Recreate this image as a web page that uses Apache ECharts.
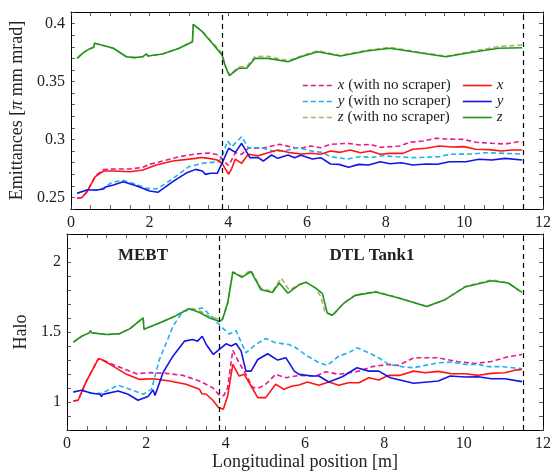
<!DOCTYPE html>
<html><head><meta charset="utf-8">
<script src="https://cdn.jsdelivr.net/npm/echarts@6/dist/echarts.min.js"></script>
<style>html,body{margin:0;padding:0;background:#fff}#c{width:554px;height:472px}</style>
</head><body><div id="c"></div>
<script>
// ---------- data ----------
const xTickLabels = ['0','2','4','6','8','10','12'];
const emitTickLabels = ['0.25','0.3','0.35','0.4'];
const haloTickLabels = ['1','1.5','2'];
const sectionBounds = [3.85, 11.5];
const sectionNames = ['MEBT', 'DTL Tank1'];

// top panel: emittances
const emitXNS = [[0.16,0.2492],[0.28,0.2500],[0.41,0.2549],[0.62,0.2685],[0.83,0.2740],[1.08,0.2745],[1.5,0.2745],[1.83,0.2760],[2.0,0.2786],[2.33,0.2814],[2.75,0.2851],[3.17,0.2875],[3.51,0.2883],[3.76,0.2866],[3.93,0.2800],[4.0,0.2775],[4.05,0.2800],[4.18,0.2886],[4.34,0.2872],[4.51,0.2924],[4.85,0.2924],[5.31,0.2958],[5.68,0.2929],[5.85,0.2924],[6.1,0.2944],[6.35,0.2929],[6.6,0.2958],[7.02,0.2967],[7.36,0.2952],[7.61,0.2958],[7.86,0.2932],[8.36,0.2944],[8.61,0.2976],[8.95,0.2987],[9.28,0.3010],[9.53,0.3004],[9.99,0.3001],[10.29,0.2976],[10.7,0.2967],[11.04,0.2961],[11.37,0.2981],[11.47,0.2976]];
const emitX = [[0.16,0.2492],[0.28,0.2500],[0.41,0.2549],[0.62,0.2679],[0.83,0.2728],[1.08,0.2728],[1.5,0.2722],[1.83,0.2737],[2.17,0.2780],[2.59,0.2814],[3.17,0.2837],[3.3,0.2845],[3.35,0.2835],[3.51,0.2837],[3.72,0.2823],[3.84,0.2794],[4.01,0.2700],[4.09,0.2751],[4.18,0.2831],[4.34,0.2794],[4.51,0.2872],[4.76,0.2860],[5.01,0.2886],[5.26,0.2909],[5.52,0.2889],[5.85,0.2875],[6.1,0.2881],[6.35,0.2872],[6.6,0.2900],[6.85,0.2889],[7.1,0.2909],[7.36,0.2886],[7.61,0.2900],[7.86,0.2872],[8.11,0.2880],[8.44,0.2880],[8.69,0.2915],[9.03,0.2924],[9.36,0.2944],[9.70,0.2935],[9.99,0.2938],[10.29,0.2915],[10.62,0.2912],[10.95,0.2900],[11.2,0.2909],[11.47,0.2909]];
const emitYNS = [[0.16,0.2536],[0.41,0.2564],[0.66,0.2564],[0.83,0.2580],[1.0,0.2622],[1.29,0.2650],[1.58,0.2622],[1.92,0.2578],[2.17,0.2573],[2.42,0.2622],[2.71,0.2693],[3.0,0.2765],[3.34,0.2794],[3.76,0.2808],[3.84,0.2851],[3.98,0.2987],[4.09,0.2938],[4.34,0.3024],[4.51,0.2929],[4.85,0.2929],[5.18,0.2895],[5.52,0.2909],[5.77,0.2929],[6.18,0.2895],[6.39,0.2889],[6.6,0.2851],[7.02,0.2831],[7.36,0.2851],[7.69,0.2846],[7.94,0.2860],[8.27,0.2851],[8.69,0.2843],[9.36,0.2851],[9.62,0.2872],[10.2,0.2875],[10.54,0.2886],[11.04,0.2880],[11.47,0.2875]];
const emitY = [[0.16,0.2536],[0.41,0.2564],[0.66,0.2564],[0.83,0.2572],[0.88,0.2590],[1.08,0.2607],[1.33,0.2636],[1.66,0.2601],[2.0,0.2555],[2.21,0.2544],[2.25,0.2560],[2.59,0.2636],[2.92,0.2708],[3.17,0.2742],[3.34,0.2728],[3.42,0.2699],[3.55,0.2708],[3.72,0.2708],[3.84,0.2794],[4.01,0.2924],[4.18,0.2889],[4.34,0.2967],[4.55,0.2843],[4.76,0.2843],[4.89,0.2814],[5.1,0.2866],[5.26,0.2837],[5.52,0.2866],[5.68,0.2843],[5.85,0.2863],[6.14,0.2831],[6.35,0.2843],[6.6,0.2788],[6.81,0.2785],[7.06,0.2760],[7.32,0.2785],[7.57,0.2780],[7.86,0.2808],[8.11,0.2790],[8.4,0.2799],[8.69,0.2780],[9.03,0.2788],[9.32,0.2786],[9.62,0.2808],[10.04,0.2808],[10.37,0.2829],[10.7,0.2823],[11.04,0.2837],[11.47,0.2823]];
const emitZNS = [[0.16,0.3700],[0.3,0.3745],[0.45,0.3778],[0.58,0.3795],[0.60,0.3830],[0.66,0.3826],[1.08,0.3787],[1.41,0.3714],[1.62,0.3706],[1.83,0.3714],[1.92,0.3738],[1.96,0.3720],[2.33,0.3738],[2.75,0.3787],[3.09,0.3844],[3.11,0.3994],[3.34,0.3932],[3.63,0.3825],[3.84,0.3740],[3.93,0.3635],[4.03,0.3555],[4.26,0.3625],[4.47,0.3630],[4.68,0.3715],[5.01,0.3718],[5.52,0.3680],[5.85,0.3720],[6.27,0.3765],[6.85,0.3725],[7.52,0.3770],[8.11,0.3795],[8.69,0.3762],[9.53,0.3718],[10.2,0.3760],[10.87,0.3802],[11.47,0.3815]];
const emitZ = [[0.16,0.3700],[0.3,0.3745],[0.45,0.3778],[0.58,0.3795],[0.60,0.3830],[0.66,0.3826],[1.08,0.3787],[1.41,0.3714],[1.62,0.3706],[1.83,0.3714],[1.92,0.3738],[1.96,0.3720],[2.33,0.3738],[2.75,0.3787],[3.09,0.3844],[3.11,0.3994],[3.34,0.3930],[3.63,0.3815],[3.84,0.3730],[3.93,0.3628],[4.03,0.3550],[4.26,0.3614],[4.47,0.3614],[4.68,0.3700],[5.01,0.3700],[5.52,0.3670],[5.85,0.3714],[6.27,0.3757],[6.85,0.3720],[7.52,0.3763],[8.11,0.3787],[8.69,0.3757],[9.53,0.3714],[10.2,0.3752],[10.87,0.3787],[11.47,0.3792]];

// bottom panel: halo
const haloXNS = [[0.16,1.008],[0.28,1.013],[0.49,1.150],[0.79,1.309],[0.91,1.300],[1.25,1.257],[1.75,1.203],[2.08,1.210],[2.5,1.205],[2.92,1.191],[3.34,1.150],[3.67,1.103],[3.84,1.049],[3.95,1.045],[4.05,1.103],[4.18,1.370],[4.34,1.280],[4.51,1.198],[4.68,1.103],[4.85,1.103],[5.01,1.127],[5.26,1.198],[5.52,1.174],[5.85,1.190],[6.27,1.186],[6.52,1.217],[6.85,1.198],[7.36,1.221],[7.69,1.253],[8.11,1.269],[8.36,1.262],[8.74,1.316],[9.36,1.316],[9.87,1.288],[10.29,1.276],[10.7,1.290],[11.12,1.324],[11.47,1.340]];
const haloX = [[0.16,1.008],[0.28,1.013],[0.49,1.150],[0.79,1.309],[0.87,1.304],[1.16,1.257],[1.5,1.198],[1.83,1.162],[2.17,1.167],[2.59,1.150],[3.0,1.127],[3.34,1.091],[3.4,1.060],[3.51,1.056],[3.67,1.015],[3.82,0.961],[3.94,0.949],[4.05,1.044],[4.18,1.269],[4.34,1.186],[4.47,1.198],[4.64,1.115],[4.81,1.032],[5.01,1.032],[5.26,1.127],[5.47,1.091],[5.68,1.115],[5.85,1.122],[6.06,1.143],[6.35,1.120],[6.6,1.143],[6.85,1.120],[7.1,1.138],[7.36,1.138],[7.61,1.174],[7.86,1.157],[8.11,1.191],[8.4,1.191],[8.74,1.221],[9.03,1.209],[9.36,1.219],[9.7,1.202],[10.04,1.202],[10.37,1.191],[10.7,1.205],[11.04,1.209],[11.29,1.228],[11.47,1.233]];
const haloYNS = [[0.16,1.072],[0.37,1.084],[0.62,1.063],[0.87,1.063],[1.29,1.120],[1.58,1.092],[1.92,1.056],[2.13,1.091],[2.33,1.304],[2.5,1.420],[2.67,1.541],[2.92,1.648],[3.17,1.660],[3.42,1.672],[3.68,1.601],[3.88,1.541],[4.09,1.485],[4.26,1.510],[4.51,1.352],[4.76,1.411],[5.01,1.454],[5.26,1.423],[5.6,1.411],[5.77,1.388],[6.02,1.335],[6.35,1.281],[6.56,1.262],[6.85,1.328],[7.1,1.352],[7.31,1.388],[7.61,1.352],[7.86,1.316],[8.11,1.269],[8.44,1.253],[8.74,1.245],[9.03,1.262],[9.36,1.281],[9.7,1.285],[10.04,1.269],[10.37,1.269],[10.62,1.253],[10.95,1.253],[11.47,1.238]];
const haloY = [[0.16,1.072],[0.37,1.084],[0.62,1.063],[0.83,1.056],[0.87,1.040],[0.9,1.055],[1.29,1.079],[1.54,1.056],[1.79,1.013],[2.04,1.040],[2.17,1.086],[2.22,1.048],[2.42,1.210],[2.67,1.328],[2.96,1.435],[3.17,1.447],[3.29,1.435],[3.41,1.470],[3.51,1.411],[3.69,1.340],[3.84,1.376],[4.01,1.416],[4.14,1.400],[4.26,1.418],[4.39,1.364],[4.51,1.221],[4.64,1.221],[4.81,1.304],[5.06,1.345],[5.31,1.300],[5.52,1.316],[5.73,1.221],[5.85,1.198],[6.18,1.186],[6.35,1.186],[6.6,1.143],[6.94,1.181],[7.31,1.245],[7.61,1.221],[7.86,1.221],[8.15,1.174],[8.74,1.134],[9.36,1.150],[9.66,1.186],[10.04,1.179],[10.37,1.181],[10.7,1.167],[11.04,1.167],[11.47,1.146]];
const haloZNS = [[0.16,1.4275],[0.37,1.470],[0.56,1.494],[0.59,1.510],[0.63,1.494],[1.0,1.482],[1.33,1.489],[1.58,1.5225],[1.92,1.601],[1.94,1.520],[2.33,1.565],[2.75,1.617],[3.09,1.675],[3.34,1.652],[3.59,1.612],[3.84,1.590],[3.92,1.595],[4.05,1.707],[4.18,1.930],[4.41,1.900],[4.64,1.942],[4.89,1.812],[5.18,1.790],[5.4,1.886],[5.6,1.800],[5.85,1.840],[6.02,1.856],[6.27,1.814],[6.4,1.750],[6.5,1.650],[6.69,1.615],[6.94,1.695],[7.0,1.712],[7.27,1.766],[7.78,1.790],[8.36,1.745],[9.07,1.683],[9.53,1.731],[10.03,1.825],[10.7,1.872],[11.12,1.852],[11.47,1.783]];
const haloZ = [[0.16,1.4275],[0.37,1.470],[0.56,1.494],[0.59,1.510],[0.63,1.494],[1.0,1.482],[1.33,1.489],[1.58,1.5225],[1.92,1.601],[1.94,1.520],[2.33,1.565],[2.75,1.617],[3.09,1.667],[3.34,1.640],[3.59,1.601],[3.84,1.577],[3.92,1.589],[4.05,1.707],[4.18,1.928],[4.41,1.890],[4.64,1.932],[4.89,1.802],[5.18,1.783],[5.35,1.850],[5.57,1.778],[5.85,1.8375],[6.02,1.856],[6.27,1.814],[6.44,1.774],[6.56,1.636],[6.69,1.620],[6.94,1.695],[7.0,1.710],[7.27,1.762],[7.78,1.786],[8.36,1.743],[9.07,1.683],[9.53,1.731],[10.03,1.821],[10.7,1.866],[11.12,1.850],[11.47,1.783]];

// ---------- chart ----------
const F = 'Liberation Serif';
const C = {xns:'#e8178c', x:'#ff1414', yns:'#1db3ee', y:'#1414e6', zns:'#b8aa6c', z:'#1c961c'};
const N = {xns:'x (with no scraper)', yns:'y (with no scraper)', zns:'z (with no scraper)', x:'x', y:'y', z:'z'};

function xAx(grid, pos, showLabel, name) {
  return {
    type:'value', gridIndex:grid, position:pos, min:0, max:12, interval:0.5,
    axisLine:{show:true, onZero:false, lineStyle:{color:'#000', width:1}},
    axisTick:{show:true, inside:true, length:4, lineStyle:{color:'#333', width:0.8}},
    splitLine:{show:false},
    axisLabel:{show:showLabel, margin:6, fontFamily:F, fontSize:16, color:'#222',
      formatter: v => { const k = Math.round(v*2); return (k % 4 === 0) ? xTickLabels[k/4] : ''; }},
    name: name || '', nameLocation:'middle', nameGap:22,
    nameTextStyle:{fontFamily:F, fontSize:18, color:'#222'}
  };
}
function yAx(grid, pos, showLabel, min, max, iv, labels, first, step, name) {
  return {
    type:'value', gridIndex:grid, position:pos, min:min, max:max, interval:iv,
    axisLine:{show:true, onZero:false, lineStyle:{color:'#000', width:1}},
    axisTick:{show:true, inside:true, length:4, lineStyle:{color:'#333', width:0.8}},
    splitLine:{show:false},
    axisLabel:{show:showLabel, margin:6, fontFamily:F, fontSize:16, color:'#222',
      formatter: v => { const r = (v - first)/step; const k = Math.round(r);
        return (Math.abs(r-k) < 1e-4 && k >= 0 && k < labels.length) ? labels[k] : ''; }},
    name: name || '', nameLocation:'middle', nameGap:37,
    nameTextStyle:{fontFamily:F, fontSize:18, color:'#222', rich:{i:{fontFamily:F, fontSize:18, fontStyle:'italic', color:'#222'}}}
  };
}
const mark = {
  silent:true, symbol:['none','none'], label:{show:false},
  lineStyle:{color:'#000', type:[5,4], width:1.2},
  data: sectionBounds.map(v => ({xAxis:v}))
};
function ln(key, data, xi, yi, withMark) {
  const dashed = key.endsWith('ns');
  const s = {
    type:'line', name:N[key], data:data, xAxisIndex:xi, yAxisIndex:yi,
    symbol:'none', showSymbol:false, animation:false, smooth:false,
    lineStyle:{color:C[key], width:1.6, type: dashed ? [5,3] : 'solid'},
    itemStyle:{color:C[key]}, z: dashed ? 2 : 3
  };
  if (withMark) s.markLine = mark;
  return s;
}
const legendText = {fontFamily:F, fontSize:15, lineHeight:15, color:'#222', rich:{i:{fontFamily:F, fontSize:15, lineHeight:15, fontStyle:'italic', color:'#222'}}};
const legendBase = {orient:'vertical', top:78, padding:0, itemHeight:13, itemGap:1, textStyle:legendText,
  itemStyle:{opacity:0, borderWidth:0}, lineStyle:{width:1.6}};

const option = {
  animation:false,
  backgroundColor:'#fff',
  grid:[
    {left:67, top:12, width:478, height:197},
    {left:67, top:234, width:478, height:197}
  ],
  xAxis:[
    xAx(0,'bottom',true), xAx(0,'top',false),
    xAx(1,'bottom',true,'Longitudinal position [m]'), xAx(1,'top',false)
  ],
  yAxis:[
    yAx(0,'left',true,0.24,0.41,0.01,emitTickLabels,0.25,0.05,'Emittances [{i|π} mm mrad]'),
    yAx(0,'right',false,0.24,0.41,0.01,emitTickLabels,0.25,0.05),
    yAx(1,'left',true,0.8,2.2,0.1,haloTickLabels,1,0.5,'Halo'),
    yAx(1,'right',false,0.8,2.2,0.1,haloTickLabels,1,0.5)
  ],
  legend:[
    Object.assign({}, legendBase, {left:302, itemWidth:30, data:[N.xns, N.yns, N.zns],
      formatter: n => '{i|' + n.charAt(0) + '}' + n.slice(1)}),
    Object.assign({}, legendBase, {left:462, itemWidth:29, data:[N.x, N.y, N.z],
      formatter: n => '{i|' + n + '}'})
  ],
  graphic:[
    {type:'text', position:[143,256], style:{text:sectionNames[0], textAlign:'center', textVerticalAlign:'middle', font:'bold 17px "Liberation Serif"', fill:'#222'}},
    {type:'text', position:[372,256], style:{text:sectionNames[1], textAlign:'center', textVerticalAlign:'middle', font:'bold 17px "Liberation Serif"', fill:'#222'}}
  ],
  series:[
    ln('xns', emitXNS, 0, 0, true), ln('yns', emitYNS, 0, 0), ln('zns', emitZNS, 0, 0),
    ln('x', emitX, 0, 0), ln('y', emitY, 0, 0), ln('z', emitZ, 0, 0),
    ln('xns', haloXNS, 2, 2, true), ln('yns', haloYNS, 2, 2), ln('zns', haloZNS, 2, 2),
    ln('x', haloX, 2, 2), ln('y', haloY, 2, 2), ln('z', haloZ, 2, 2)
  ]
};
const chart = echarts.init(document.getElementById('c'), null, {renderer:'canvas'});
chart.setOption(option);
</script>
</body></html>
